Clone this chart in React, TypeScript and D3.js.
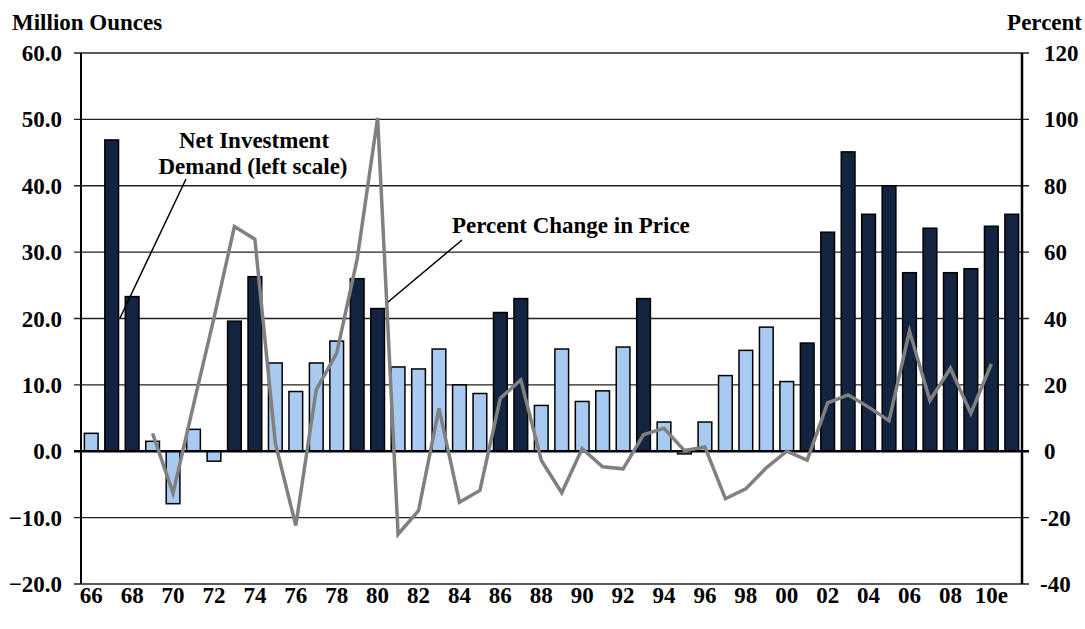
import * as d3 from "d3";
import React, { useRef, useEffect } from "react";

// years 1966 - 2011, labels shown every other year
const categories = [
  "66", "67", "68", "69", "70", "71", "72", "73", "74", "75", "76", "77",
  "78", "79", "80", "81", "82", "83", "84", "85", "86", "87", "88", "89",
  "90", "91", "92", "93", "94", "95", "96", "97", "98", "99", "00", "01",
  "02", "03", "04", "05", "06", "07", "08", "09", "10e", "11e",
];

// net investment demand, million ounces
const demand = [
  2.7, 46.9, 23.3, 1.5, -7.9, 3.3, -1.5, 19.6, 26.3, 13.3, 9.0, 13.3,
  16.6, 26.0, 21.5, 12.7, 12.4, 15.4, 10.0, 8.7, 20.9, 23.0, 6.9, 15.4,
  7.5, 9.1, 15.7, 23.0, 4.4, -0.4, 4.4, 11.4, 15.2, 18.7, 10.5, 16.3,
  33.0, 45.1, 35.7, 40.0, 26.9, 33.6, 26.9, 27.5, 33.9, 35.7,
];

// years drawn in the dark colour
const emphasisYears = [
  "67", "68", "73", "74", "79", "80", "86", "87", "93", "01", "02", "03",
  "04", "05", "06", "07", "08", "09", "10e", "11e",
];

// percent change in price, 1969 - 2010
const priceYears = categories.slice(3, 45);
const priceChange = [
  5.4, -12.6, 14.0, 40.2, 67.7, 63.9, 2.4, -22.4, 18.5, 29.6, 57.9, 100.5,
  -25.0, -17.9, 12.9, -15.4, -11.8, 16.0, 21.5, -2.7, -12.5, 0.8, -4.7, -5.3,
  5.0, 6.9, 0.2, 1.3, -14.3, -11.3, -5.0, 0.0, -2.7, 14.6, 17.0, 13.3,
  9.2, 36.2, 15.3, 25.0, 11.4, 26.3,
];

const leftTicks = [-20, -10, 0, 10, 20, 30, 40, 50, 60];
const rightTicks = [-40, -20, 0, 20, 40, 60, 80, 100, 120];

const W = 1085;
const H = 629;
const X0 = 81;
const X1 = 1022;
const YTOP = 53;
const YBOT = 584;
const FONT = "'Liberation Serif', 'Times New Roman', serif";

export default function App() {
  const ref = useRef(null);

  useEffect(() => {
    const svg = d3.select(ref.current);
    svg.selectAll("*").remove();

    const x = d3
      .scaleBand()
      .domain(categories)
      .range([X0, X1])
      .paddingInner(0.33)
      .paddingOuter(0.165);
    const y = d3.scaleLinear().domain([-20, 60]).range([YBOT, YTOP]);
    const y2 = d3.scaleLinear().domain([-40, 120]).range([YBOT, YTOP]);

    // gridlines + tick marks
    svg
      .append("g")
      .selectAll("line")
      .data(leftTicks.filter((d) => d !== 0))
      .enter()
      .append("line")
      .attr("x1", X0 - 7)
      .attr("x2", X1 + 7)
      .attr("y1", (d) => y(d))
      .attr("y2", (d) => y(d))
      .attr("stroke", "#222")
      .attr("stroke-width", 1.3);

    // bars
    svg
      .append("g")
      .selectAll("rect")
      .data(demand)
      .enter()
      .append("rect")
      .attr("x", (d, i) => x(categories[i]))
      .attr("y", (d) => y(Math.max(0, d)))
      .attr("width", x.bandwidth())
      .attr("height", (d) => Math.abs(y(d) - y(0)))
      .attr("fill", (d, i) =>
        emphasisYears.includes(categories[i]) ? "#12243f" : "#a8caf0"
      )
      .attr("stroke", "#000")
      .attr("stroke-width", 1.5);

    // zero line
    svg
      .append("line")
      .attr("x1", X0 - 7)
      .attr("x2", X1 + 7)
      .attr("y1", y(0))
      .attr("y2", y(0))
      .attr("stroke", "#000")
      .attr("stroke-width", 2.5);

    // axis lines
    svg
      .append("line")
      .attr("x1", X0)
      .attr("x2", X0)
      .attr("y1", YTOP)
      .attr("y2", YBOT)
      .attr("stroke", "#000")
      .attr("stroke-width", 2);
    svg
      .append("line")
      .attr("x1", X1)
      .attr("x2", X1)
      .attr("y1", YTOP)
      .attr("y2", YBOT)
      .attr("stroke", "#000")
      .attr("stroke-width", 2.5);

    // price line
    const line = d3
      .line()
      .x((d, i) => x(priceYears[i]) + x.bandwidth() / 2)
      .y((d) => y2(d));
    svg
      .append("path")
      .datum(priceChange)
      .attr("d", line)
      .attr("fill", "none")
      .attr("stroke", "#808080")
      .attr("stroke-width", 3.5)
      .attr("stroke-linejoin", "miter");

    const text = svg
      .append("g")
      .attr("font-family", FONT)
      .attr("font-weight", "bold")
      .attr("font-size", 23)
      .attr("fill", "#000");

    text
      .selectAll(".lt")
      .data(leftTicks)
      .enter()
      .append("text")
      .attr("x", 62)
      .attr("y", (d) => y(d))
      .attr("dy", "0.35em")
      .attr("text-anchor", "end")
      .text((d) => d3.format(".1f")(d));

    text
      .selectAll(".rt")
      .data(rightTicks)
      .enter()
      .append("text")
      .attr("x", (d) => (d < 0 ? 1040 : 1044))
      .attr("y", (d) => y2(d))
      .attr("dy", "0.35em")
      .text((d) => (d < 0 ? "-" + Math.abs(d) : d));

    text
      .selectAll(".xl")
      .data(categories.filter((d, i) => i % 2 === 0))
      .enter()
      .append("text")
      .attr("x", (d) => x(d) + x.bandwidth() / 2)
      .attr("y", 603)
      .attr("text-anchor", "middle")
      .text((d) => d);

    text.append("text").attr("x", 12).attr("y", 30).text("Million Ounces");
    text
      .append("text")
      .attr("x", 1082)
      .attr("y", 30)
      .attr("text-anchor", "end")
      .text("Percent");

    // annotations
    text
      .append("text")
      .attr("x", 254)
      .attr("y", 148)
      .attr("text-anchor", "middle")
      .text("Net Investment");
    text
      .append("text")
      .attr("x", 253)
      .attr("y", 174)
      .attr("text-anchor", "middle")
      .text("Demand (left scale)");
    text
      .append("text")
      .attr("x", 452)
      .attr("y", 233)
      .text("Percent Change in Price");

    svg
      .append("line")
      .attr("x1", 186)
      .attr("y1", 179)
      .attr("x2", 120)
      .attr("y2", 318)
      .attr("stroke", "#000")
      .attr("stroke-width", 1.5);
    svg
      .append("line")
      .attr("x1", 462)
      .attr("y1", 240)
      .attr("x2", 388)
      .attr("y2", 302)
      .attr("stroke", "#000")
      .attr("stroke-width", 1.5);
  }, []);

  return (
    <svg
      ref={ref}
      width={W}
      height={H}
      style={{ position: "absolute", left: 0, top: 0, background: "#fff" }}
    ></svg>
  );
}
